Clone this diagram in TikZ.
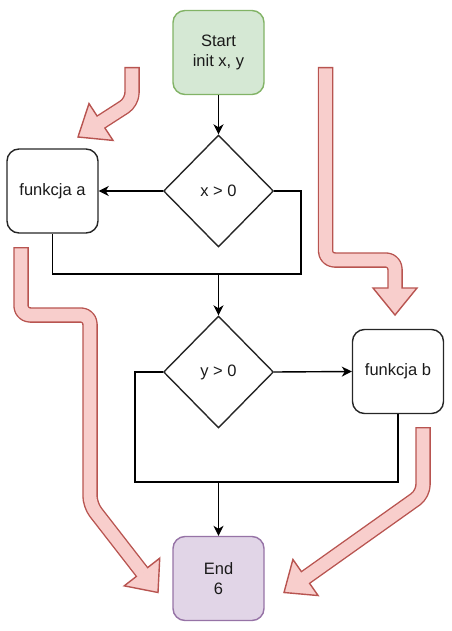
\documentclass[tikz,border=0pt]{standalone}
\usepackage{fontspec}
\setmainfont{Liberation Sans}
\usetikzlibrary{shapes.geometric,arrows.meta,calc}
\definecolor{rfill}{HTML}{F8CECC}
\definecolor{rline}{HTML}{B85450}
\definecolor{gfill}{HTML}{D5E8D4}
\definecolor{gline}{HTML}{82B366}
\definecolor{pfill}{HTML}{E1D5E7}
\definecolor{pline}{HTML}{9673A6}
\definecolor{txt}{HTML}{1A1A1A}
\begin{document}
\begin{tikzpicture}[x=1pt,y=-1pt,
  every node/.style={font=\fontsize{16.5}{20}\selectfont, text=txt, align=center},
  box/.style={draw=black!85, line width=1.4pt, rounded corners=12pt, minimum width=91pt, minimum height=84pt, inner sep=0pt},
  startbox/.style={box, fill=gfill, draw=gline},
  endbox/.style={box, fill=pfill, draw=pline},
  decision/.style={diamond, draw=black!85, line width=1.4pt, minimum width=110pt, minimum height=112pt, inner sep=0pt},
  conn/.style={line width=1.4pt, draw=black},
  arr/.style={conn, -{Stealth[length=10pt,width=10pt,inset=3pt]}},
  redout/.style={draw=rline, line width=15.5pt, rounded corners=9pt, line join=round},
  redin/.style={draw=rfill, line width=12.7pt, rounded corners=9pt, line join=round, shorten <=1.4pt},
  redhead/.style={fill=rfill, draw=rline, line width=1.4pt, line join=miter}
]
\useasboundingbox (0,0) rectangle (451,631);

% nodes
\node[startbox] (start) at (218.5,52.5) {Start\\init x, y};
\node[decision] (d1) at (218.5,191) {x > 0};
\node[box] (fa) at (52.5,191) {funkcja a};
\node[decision] (d2) at (218.5,372) {y > 0};
\node[box] (fb) at (398,371.5) {funkcja b};
\node[endbox] (end) at (218.5,578.5) {End\\6};

% connectors
\coordinate (c1) at (301,274);
\coordinate (m1) at (218.5,274);
\coordinate (c2) at (135,482);
\coordinate (m2) at (218.5,482);
\draw[arr] (start.south) -- (d1.north);
\draw[arr] (d1.west) -- (fa.east);
\draw[conn] (d1.east) -| (c1) -| (fa.south);
\draw[arr] (m1) -- (d2.north);
\draw[arr] (d2.east) -- (fb.west);
\draw[conn] (d2.west) -| (c2) -| (fb.south);
\draw[arr] (m2) -- (end.north);

% red block arrows
% A (top left)
\coordinate (a1) at (132,67);
\coordinate (a2) at (132,102);
\coordinate (aB) at (101,122);
\coordinate (aT) at (78,137);
% B (left long)
\coordinate (b1) at (21,247);
\coordinate (b2) at (21,315);
\coordinate (b3) at (90,315);
\coordinate (b4) at (90,505);
\coordinate (bB) at (142,572);
\coordinate (bT) at (158,592.5);
% C (right long)
\coordinate (k1) at (325.5,67);
\coordinate (k2) at (325.5,260);
\coordinate (k3) at (395,260);
\coordinate (kB) at (395,288);
\coordinate (kT) at (395,315);
% D (bottom right)
\coordinate (e1) at (423,427);
\coordinate (e2) at (423,494);
\coordinate (eB) at (305.5,577.5);
\coordinate (eT) at (284,592.5);

\draw[redout] (a1) -- (a2) -- (aB);
\draw[redout] (b1) -- (b2) -- (b3) -- (b4) -- (bB);
\draw[redout] (k1) -- (k2) -- (k3) -- (kB);
\draw[redout] (e1) -- (e2) -- (eB);

\filldraw[redhead] (aT) -- ($(aB)!22pt!90:(aT)$) -- ($(aB)!22pt!-90:(aT)$) -- cycle;
\filldraw[redhead] (bT) -- ($(bB)!22.5pt!90:(bT)$) -- ($(bB)!22.5pt!-90:(bT)$) -- cycle;
\filldraw[redhead] (kT) -- ($(kB)!22pt!90:(kT)$) -- ($(kB)!22pt!-90:(kT)$) -- cycle;
\filldraw[redhead] (eT) -- ($(eB)!22pt!90:(eT)$) -- ($(eB)!22pt!-90:(eT)$) -- cycle;

\draw[redin] (a1) -- (a2) -- ($(aB)!1.5pt!(aT)$);
\draw[redin] (b1) -- (b2) -- (b3) -- (b4) -- ($(bB)!1.5pt!(bT)$);
\draw[redin] (k1) -- (k2) -- (k3) -- ($(kB)!1.5pt!(kT)$);
\draw[redin] (e1) -- (e2) -- ($(eB)!1.5pt!(eT)$);
\end{tikzpicture}
\end{document}
